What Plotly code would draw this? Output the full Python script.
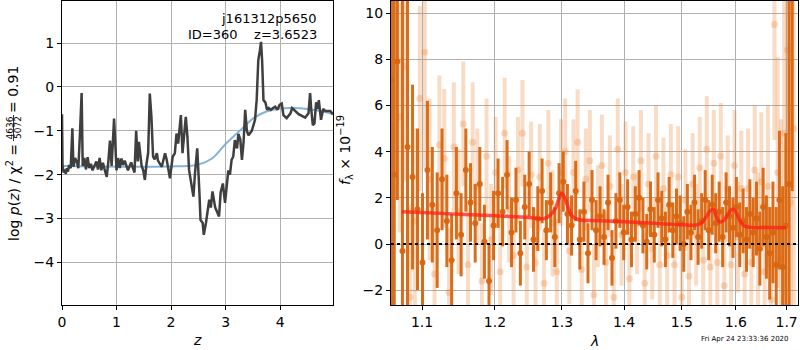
import math
import plotly.graph_objects as go

# ---------------- redshift fit: log p(z) ----------------
z_grid = [
    0.00, 0.01, 0.03, 0.05, 0.07, 0.09, 0.11, 0.13, 0.16, 0.19,
    0.21, 0.24, 0.27, 0.30, 0.33, 0.36, 0.38, 0.41, 0.44, 0.47,
    0.50, 0.53, 0.56, 0.60, 0.63, 0.66, 0.69, 0.72, 0.75, 0.79,
    0.82, 0.85, 0.88, 0.91, 0.94, 0.955, 0.97, 1.00, 1.03, 1.06,
    1.09, 1.12, 1.15, 1.18, 1.21, 1.24, 1.27, 1.30, 1.33, 1.36,
    1.39, 1.41, 1.43, 1.46, 1.49, 1.52, 1.55, 1.58, 1.61, 1.64,
    1.67, 1.70, 1.74, 1.76, 1.83, 1.89, 1.92, 1.98, 2.03, 2.07,
    2.10, 2.13, 2.18, 2.21, 2.27, 2.30, 2.33, 2.38, 2.41, 2.44,
    2.48, 2.52, 2.54, 2.58, 2.60, 2.64, 2.67, 2.70, 2.73, 2.76,
    2.81, 2.84, 2.88, 2.91, 2.95, 2.99, 3.02, 3.05, 3.08, 3.11,
    3.14, 3.17, 3.21, 3.235, 3.27, 3.30, 3.33, 3.36, 3.39, 3.42,
    3.48, 3.54, 3.57, 3.60, 3.63, 3.65, 3.67, 3.695, 3.73, 3.76,
    3.79, 3.83, 3.87, 3.91, 3.95, 3.99, 4.03, 4.06, 4.12, 4.19,
    4.22, 4.28, 4.34, 4.40, 4.46, 4.52, 4.55, 4.57, 4.60, 4.63,
    4.66, 4.69, 4.71, 4.75, 4.79, 4.83, 4.87, 4.92, 4.97,
]
logpz = [
    -0.62, -1.80, -1.95, -1.88, -1.98, -1.85, -1.93, -1.78, -1.85, -0.94,
    -1.82, -1.62, -1.70, -1.85, -1.05, -0.14, -1.80, -1.62, -1.88, -1.60,
    -1.85, -1.75, -1.90, -1.78, -1.70, -1.88, -1.62, -1.90, -1.73, -1.92,
    -2.05, -1.70, -1.22, -1.80, -0.90, -0.72, -1.10, -1.90, -1.62, -1.85,
    -1.63, -1.78, -1.68, -1.82, -1.90, -1.80, -1.72, -1.85, -1.95, -1.00,
    -1.70, -1.25, -1.55, -1.80, -1.90, -2.12, -1.75, -1.50, -0.15, -0.68,
    -1.59, -1.65, -1.51, -1.68, -1.82, -1.51, -1.66, -2.08, -1.59, -1.51,
    -1.06, -1.29, -0.64, -1.51, -0.68, -1.13, -1.89, -2.27, -2.50, -1.95,
    -1.40, -2.40, -3.03, -3.10, -3.37, -3.10, -2.80, -2.57, -2.75, -2.38,
    -2.75, -2.85, -2.95, -2.40, -2.20, -2.64, -2.20, -1.90, -2.00, -1.66,
    -1.59, -1.21, -1.40, -1.07, -1.20, -1.66, -1.25, -0.52, -1.00, -1.10,
    -1.00, -0.75, -0.30, 0.61, 0.84, 1.03, 0.61, -0.30, -0.35, -0.52,
    -0.48, -0.52, -0.48, -0.45, -0.52, -0.41, -0.38, -0.64, -0.71, -0.60,
    -0.48, -0.55, -0.62, -0.66, -0.70, -0.60, -0.14, -0.50, -0.87, -0.83,
    -0.35, -0.50, -0.30, -0.75, -0.50, -0.55, -0.55, -0.55, -0.62,
]
z_prior = [0.0, 0.5, 1.0, 1.5, 2.0, 2.3, 2.5, 2.75, 3.0, 3.25, 3.5,
           3.75, 4.0, 4.25, 4.5, 4.75, 4.97]
logp_prior = [-1.80, -1.81, -1.82, -1.82, -1.81, -1.80, -1.77, -1.63, -1.30,
              -1.01, -0.72, -0.56, -0.49, -0.48, -0.50, -0.55, -0.62]

# ---------------- grism spectrum ----------------
wave_a = [
    1.0605, 1.0640,
    1.068, 1.0745, 1.081, 1.0875, 1.094, 1.1005, 1.107, 1.1135, 1.120, 1.1265,
    1.133, 1.1395, 1.146, 1.1525, 1.159, 1.1655, 1.172, 1.1785, 1.185, 1.1915,
    1.198, 1.2045, 1.211, 1.2175, 1.224, 1.2305, 1.237, 1.2435, 1.250, 1.2565,
    1.263, 1.2695, 1.276, 1.2825, 1.289, 1.2955, 1.302, 1.3085, 1.315, 1.3215,
    1.328, 1.3345, 1.341, 1.3475, 1.354, 1.3605, 1.367, 1.3735, 1.380, 1.3865,
    1.393, 1.3995, 1.406, 1.4125, 1.419, 1.4255, 1.432, 1.4385, 1.445, 1.4515,
    1.458, 1.4645, 1.471, 1.4775, 1.484, 1.4905, 1.497, 1.5035, 1.510, 1.5165,
    1.523, 1.5295, 1.536, 1.5425, 1.549, 1.5555, 1.562, 1.5685, 1.575, 1.5815,
    1.588, 1.5945, 1.601, 1.6075, 1.614, 1.6205, 1.627, 1.6335, 1.640, 1.6465,
    1.653, 1.6595, 1.666, 1.6725, 1.679, 1.6855, 1.692, 1.6985, 1.705, 1.7115,
]
flux_a = [
    7.1, 3.0,
    7.9, -0.3, 4.2, 2.9, 1.5, -0.8, 3.2, 1.7, 0.6, 2.8,
    1.0, -0.7, 2.2, 0.4, 3.2, 1.8, 0.9, 2.6, 0.1, -1.6,
    0.8, 2.2, 1.4, 3.0, 0.5, 1.9, -0.4, 1.6, 2.6, 0.2,
    1.1, 2.3, 0.6, 1.8, 0.3, 2.2, 2.7, 1.3, 0.8, 2.3,
    0.2, 1.4, -0.4, 1.9, 0.6, 1.2, 0.3, 1.8, -0.6, 1.0,
    1.9, 0.5, 1.6, 0.2, 1.3, 2.0, 0.8, 0.1, 1.5, 0.4,
    1.9, 1.1, 0.2, 1.7, 0.6, 1.2, 0.9, 0.0, 1.4, 0.5,
    1.8, 0.3, 1.0, 1.9, 0.6, 1.7, 0.9, 1.4, 0.3, 1.8,
    1.2, 0.7, 1.6, 0.4, 1.0, 0.2, 1.3, 0.5, 1.1, -0.2,
    1.6, 0.3, -0.4, 0.5, -0.9, 1.9, -1.0, 0.8, 2.6, 14.0,
]
err_a = [
    25.0, 25.0,
    6.0, 12.0, 8.0, 4.0, 3.5, 3.0, 3.0, 2.5, 2.5, 2.2,
    2.0, 2.0, 2.0, 1.8, 1.8, 1.7, 1.7, 1.6, 1.6, 1.6,
    1.5, 1.5, 1.5, 1.5, 1.5, 1.4, 1.4, 1.4, 1.4, 1.4,
    1.4, 1.4, 1.3, 1.3, 1.3, 1.3, 1.3, 1.3, 1.3, 1.3,
    1.3, 1.3, 1.3, 1.3, 1.3, 1.3, 1.2, 1.2, 1.2, 1.2,
    1.2, 1.2, 1.2, 1.2, 1.2, 1.2, 1.2, 1.2, 1.2, 1.2,
    1.2, 1.2, 1.2, 1.2, 1.2, 1.2, 1.2, 1.2, 1.2, 1.2,
    1.2, 1.2, 1.2, 1.3, 1.3, 1.3, 1.3, 1.3, 1.3, 1.3,
    1.3, 1.3, 1.3, 1.4, 1.4, 1.4, 1.5, 1.5, 1.6, 1.6,
    1.7, 1.8, 2.0, 2.2, 2.5, 3.0, 3.5, 4.0, 20.0, 11.7,
]

wave_b = [
    1.071, 1.0775, 1.084, 1.0905, 1.097, 1.1035, 1.110, 1.1165, 1.123, 1.1295,
    1.136, 1.1425, 1.149, 1.1555, 1.162, 1.1685, 1.175, 1.1815, 1.188, 1.1945,
    1.201, 1.2075, 1.214, 1.2205, 1.227, 1.2335, 1.240, 1.2465, 1.253, 1.2595,
    1.266, 1.2725, 1.279, 1.2855, 1.292, 1.2985, 1.305, 1.3115, 1.318, 1.3245,
    1.331, 1.3375, 1.344, 1.3505, 1.357, 1.3635, 1.370, 1.3765, 1.383, 1.3895,
    1.396, 1.4025, 1.409, 1.4155, 1.422, 1.4285, 1.435, 1.4415, 1.448, 1.4545,
    1.461, 1.4675, 1.474, 1.4805, 1.487, 1.4935, 1.500, 1.5065, 1.513, 1.5195,
    1.526, 1.5325, 1.539, 1.5455, 1.552, 1.5585, 1.565, 1.5715, 1.578, 1.5845,
    1.591, 1.5975, 1.604, 1.6105, 1.617, 1.6235, 1.630, 1.6365, 1.643, 1.6495,
    1.656, 1.6625, 1.669, 1.6755, 1.682, 1.6885, 1.695, 1.7015, 1.708, 1.7145,
]
flux_b = [
    5.5, 7.7, -2.3, 1.0, 6.3, 8.3, 2.8, -1.3, 4.3, 3.7,
    -2.1, 4.2, 1.4, 5.2, -0.9, 4.4, 2.5, -1.6, 3.8, 0.2,
    3.1, -1.2, 4.8, 1.5, -0.5, 3.2, 4.8, -1.0, 3.0, -0.8,
    2.9, -1.7, 3.5, 0.9, -1.2, 3.1, 4.0, -0.3, 3.1, 4.4,
    -1.1, 2.8, 3.6, -2.2, 1.2, 3.4, -0.8, 2.5, -2.3, 4.1,
    0.4, 3.1, -1.5, 2.9, 0.9, 3.6, -1.7, 2.6, -0.2, 3.8,
    -0.9, 2.4, -0.5, 3.0, -0.9, 2.9, -2.3, 1.9, -1.4, 2.6,
    0.4, 3.3, -0.7, 4.1, -1.0, 3.5, -0.8, 3.8, -1.8, 2.4,
    -0.9, 3.4, 0.3, 2.4, -1.3, 2.4, -0.8, 3.2, 0.2, 2.7,
    -1.2, 2.5, -2.4, 9.5, 3.1, -0.6, 4.8, 8.4, 1.8, 5.0,
]
err_b = [
    5.0, 5.0, 4.0, 4.0, 4.0, 5.0, 3.5, 3.0, 3.0, 3.0,
    2.8, 2.8, 2.7, 2.7, 2.6, 2.6, 2.5, 2.5, 2.5, 2.4,
    2.4, 2.4, 2.4, 2.3, 2.3, 2.3, 2.3, 2.3, 2.3, 2.3,
    2.3, 2.3, 2.3, 2.3, 2.3, 2.3, 2.3, 2.3, 2.3, 2.3,
    2.2, 2.2, 2.2, 2.2, 2.2, 2.2, 2.2, 2.2, 2.2, 2.2,
    2.2, 2.2, 2.2, 2.2, 2.2, 2.2, 2.2, 2.2, 2.2, 2.2,
    2.2, 2.2, 2.2, 2.2, 2.2, 2.2, 2.2, 2.2, 2.2, 2.2,
    2.2, 2.2, 2.2, 2.3, 2.3, 2.3, 2.3, 2.3, 2.3, 2.3,
    2.4, 2.4, 2.4, 2.5, 2.5, 2.6, 2.7, 2.8, 2.9, 3.0,
    3.2, 3.5, 4.0, 5.0, 5.0, 6.0, 7.0, 8.0, 10.0, 12.0,
]

model_wave = [1.0736, 1.10, 1.15, 1.20, 1.25, 1.272, 1.282, 1.290, 1.295, 1.300,
              1.305, 1.310, 1.316, 1.3265, 1.35, 1.40, 1.45, 1.50, 1.5255, 1.535,
              1.545, 1.552, 1.558, 1.563, 1.569, 1.576, 1.584, 1.590, 1.595, 1.601,
              1.608, 1.617, 1.63, 1.66, 1.699]
model_flux = [1.40, 1.36, 1.29, 1.22, 1.15, 1.10, 1.25, 1.55, 1.95, 2.19,
              1.95, 1.55, 1.20, 1.05, 1.02, 0.96, 0.90, 0.83, 0.82, 0.90,
              1.20, 1.45, 1.50, 1.20, 0.96, 1.00, 1.25, 1.45, 1.52, 1.35,
              1.00, 0.78, 0.72, 0.71, 0.70]

wave_ticks = [1.1, 1.2, 1.3, 1.4, 1.5, 1.6, 1.7]
wave_lim = [1.0599, 1.7233]

W, H = 800, 350
FONT = "DejaVu Sans"
DARK = "rgba(217,101,14,0.95)"
LIGHT = "rgba(232,128,50,0.28)"


def px(x):
    return x / W


def py(y):
    return 1 - y / H


fig = go.Figure()

# left panel
fig.add_trace(go.Scatter(x=z_prior, y=logp_prior, mode="lines", line_shape="spline",
                         line=dict(color="rgba(118,171,212,0.9)", width=2),
                         xaxis="x", yaxis="y", hoverinfo="skip"))
fig.add_trace(go.Scatter(x=z_grid, y=logpz, mode="lines",
                         line=dict(color="#3f3f3f", width=2.5),
                         xaxis="x", yaxis="y"))

# right panel
fig.add_trace(go.Scatter(x=wave_b, y=flux_b, mode="markers",
                         marker=dict(color=LIGHT, size=7),
                         error_y=dict(type="data", array=err_b, color=LIGHT,
                                      thickness=4, width=0),
                         xaxis="x2", yaxis="y2"))
fig.add_trace(go.Scatter(x=wave_a, y=flux_a, mode="markers",
                         marker=dict(color=DARK, size=6),
                         error_y=dict(type="data", array=err_a, color=DARK,
                                      thickness=3, width=0),
                         xaxis="x2", yaxis="y2"))
fig.add_trace(go.Scatter(x=model_wave, y=model_flux, mode="lines", line_shape="spline",
                         line=dict(color="rgba(255,30,20,0.75)", width=3.5),
                         xaxis="x2", yaxis="y2"))
fig.add_trace(go.Scatter(x=wave_lim, y=[0, 0], mode="lines",
                         line=dict(color="black", width=2, dash="dot"),
                         xaxis="x2", yaxis="y2"))

axis_common = dict(
    showline=True, linecolor="black", linewidth=1, mirror=True,
    ticks="outside", ticklen=4, tickcolor="black", tickwidth=1,
    showgrid=True, gridcolor="#b0b0b0", gridwidth=1, zeroline=False,
    automargin=False,
    tickfont=dict(family=FONT, size=14, color="black"),
)

fig.update_layout(
    width=W, height=H,
    margin=dict(l=0, r=0, t=0, b=0, autoexpand=False),
    paper_bgcolor="white", plot_bgcolor="white",
    showlegend=False,
    xaxis=dict(domain=[px(62), px(333)], range=[0, 4.97], tickvals=[0, 1, 2, 3, 4],
               anchor="y", **axis_common),
    yaxis=dict(domain=[py(305), py(1)], range=[-4.97, 1.96],
               tickvals=[-4, -3, -2, -1, 0, 1], anchor="x", **axis_common),
    xaxis2=dict(domain=[px(391), px(798)], type="log",
                range=[math.log10(wave_lim[0]), math.log10(wave_lim[1])],
                tickvals=wave_ticks, ticktext=[f"{t:.1f}" for t in wave_ticks],
                anchor="y2", **axis_common),
    yaxis2=dict(domain=[py(305), py(1)], range=[-2.64, 10.52],
                tickvals=[-2, 0, 2, 4, 6, 8, 10], anchor="x2", **axis_common),
)

ann = []


def label(x, y, text, size=14, angle=0, xanchor="center", italic=False):
    ann.append(dict(x=px(x), y=py(y), xref="paper", yref="paper", text=text,
                    showarrow=False, xanchor=xanchor, yanchor="middle",
                    textangle=angle,
                    font=dict(family=FONT, size=size, color="black",
                              style="italic" if italic else "normal")))


# object name and fit result
label(319, 19, "j161312p5650", size=13, xanchor="right")
label(319, 35, "ID=360    z=3.6523", size=13, xanchor="right")

# axis titles
label(197, 340, "z", italic=True)
label(594, 341, "λ", italic=True)
label(13, 193, "log <i>p</i>(<i>z</i>) / χ<sup>2</sup> =", angle=-90)
label(9.5, 128, "4636", size=9, angle=-90)
label(18, 128, "5072", size=9, angle=-90)
label(13, 90, "= 0.91", angle=-90)
label(345, 150, "<i>f</i><sub>λ</sub> × 10<sup>−19</sup>", angle=-90)

# timestamp
label(745, 339, "Fri Apr 24 23:33:36 2020", size=7)

fig.update_layout(annotations=ann)

# fraction bar of the chi-square ratio
fig.add_shape(type="line", xref="paper", yref="paper",
              x0=px(13.5), x1=px(13.5), y0=py(115), y1=py(141),
              line=dict(color="black", width=0.8))

fig.write_html("out.html")
